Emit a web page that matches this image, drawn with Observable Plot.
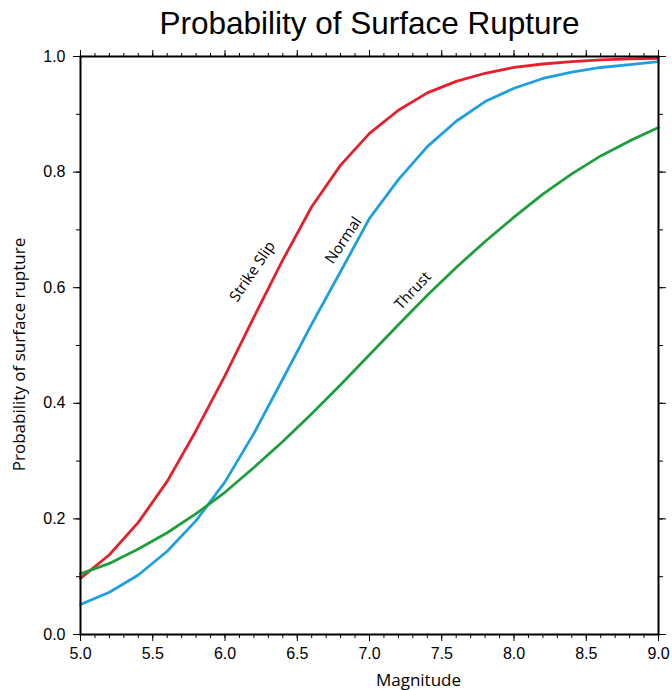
<!DOCTYPE html>
<html>
<head>
<meta charset="utf-8">
<script src="https://cdn.jsdelivr.net/npm/d3@7"></script>
<script src="https://cdn.jsdelivr.net/npm/@observablehq/plot@0.6"></script>
<style>
  body { margin: 0; background: #fff; }
  svg { display: block; }
</style>
</head>
<body>
<div id="chart"></div>
<script>
// ---- data ----
const magnitude = [5.0, 5.2, 5.4, 5.6, 5.8, 6.0, 6.2, 6.4, 6.6, 6.8, 7.0, 7.2, 7.4, 7.6, 7.8, 8.0, 8.2, 8.4, 8.6, 8.8, 9.0];
const strikeSlip = [0.097, 0.138, 0.194, 0.265, 0.353, 0.448, 0.549, 0.648, 0.740, 0.812, 0.867, 0.907, 0.937, 0.957, 0.971, 0.981, 0.987, 0.991, 0.994, 0.996, 0.997];
const normal = [0.052, 0.073, 0.103, 0.144, 0.197, 0.264, 0.348, 0.442, 0.537, 0.628, 0.720, 0.787, 0.844, 0.888, 0.922, 0.945, 0.962, 0.973, 0.981, 0.986, 0.991];
const thrust = [0.105, 0.123, 0.148, 0.176, 0.209, 0.246, 0.289, 0.334, 0.382, 0.432, 0.484, 0.536, 0.587, 0.635, 0.680, 0.722, 0.762, 0.797, 0.828, 0.854, 0.877];
const seriesNames = ["Strike Slip", "Normal", "Thrust"];
const seriesColors = ["#e3202b", "#1f9fdd", "#1f9e3e"];
const xTickValues = [5.0, 5.5, 6.0, 6.5, 7.0, 7.5, 8.0, 8.5, 9.0];
const yTickValues = [0.0, 0.2, 0.4, 0.6, 0.8, 1.0];
const xMinorTicks = d3.range(50, 91, 1).map(d => d / 10);
const yMinorTicks = d3.range(0, 11, 1).map(d => d / 10);

const titleText = "Probability of Surface Rupture";
const xLabel = "Magnitude";
const yLabel = "Probability of surface rupture";

// in-plot curve labels (annotation placement)
const curveLabels = [
  {text: "Strike Slip", m: 6.19, p: 0.628, angle: -56},
  {text: "Normal", m: 6.82, p: 0.682, angle: -56},
  {text: "Thrust", m: 7.30, p: 0.595, angle: -47}
];

// ---- build tidy table ----
const valuesBySeries = [strikeSlip, normal, thrust];
const rows = [];
seriesNames.forEach((name, s) => {
  magnitude.forEach((m, i) => rows.push({series: name, m, p: valuesBySeries[s][i]}));
});

const tickFont = "'Liberation Sans', Arial, Helvetica, sans-serif";
const labelFont = "'Open Sans', 'Noto Sans', sans-serif";

const chart = Plot.plot({
  width: 672,
  height: 690,
  marginTop: 56,
  marginBottom: 56,
  marginLeft: 80,
  marginRight: 14,
  style: {fontFamily: tickFont, fontSize: "16px", background: "#fff", color: "#000", overflow: "visible"},
  x: {domain: [5, 9], label: null},
  y: {domain: [0, 1], label: null},
  color: {domain: seriesNames, range: seriesColors},
  marks: [
    Plot.line(rows, {x: "m", y: "p", stroke: "series", strokeWidth: 2.8, strokeLinejoin: "round"}),
    // minor ticks on all sides
    Plot.axisX(xMinorTicks, {anchor: "bottom", tickSize: 4, fill: "none", label: null}),
    Plot.axisX(xMinorTicks, {anchor: "top", tickSize: 4, fill: "none", label: null}),
    Plot.axisY(yMinorTicks, {anchor: "left", tickSize: 4, fill: "none", label: null}),
    Plot.axisY(yMinorTicks, {anchor: "right", tickSize: 4, fill: "none", label: null}),
    // major ticks
    Plot.axisX(xTickValues, {anchor: "bottom", tickSize: 7, tickPadding: 6, tickFormat: d3.format(".1f"), fontSize: 16, label: null}),
    Plot.axisX(xTickValues, {anchor: "top", tickSize: 7, fill: "none", label: null}),
    Plot.axisY(yTickValues, {anchor: "left", tickSize: 7, tickPadding: 8, tickFormat: d3.format(".1f"), fontSize: 16, label: null}),
    Plot.axisY(yTickValues, {anchor: "right", tickSize: 7, fill: "none", label: null}),
    Plot.frame({stroke: "#000", strokeWidth: 2}),
    // curve labels
    Plot.text(curveLabels, {x: "m", y: "p", text: "text", rotate: "angle", fontSize: 15, fontFamily: labelFont, fill: "#000"}),
    // title and axis titles
    Plot.text([titleText], {frameAnchor: "top", dy: -23, lineAnchor: "bottom", fontSize: 31.5, fontFamily: tickFont, fill: "#000"}),
    Plot.text([xLabel], {frameAnchor: "bottom", dy: 51, dx: 49, textAnchor: "middle", lineAnchor: "bottom", fontSize: 17, fontFamily: labelFont, fill: "#000"}),
    Plot.text([yLabel], {frameAnchor: "left", dx: -61, dy: 9, rotate: -90, textAnchor: "middle", lineAnchor: "middle", fontSize: 17, fontFamily: labelFont, fill: "#000"})
  ]
});

document.getElementById("chart").appendChild(chart);
</script>
</body>
</html>
